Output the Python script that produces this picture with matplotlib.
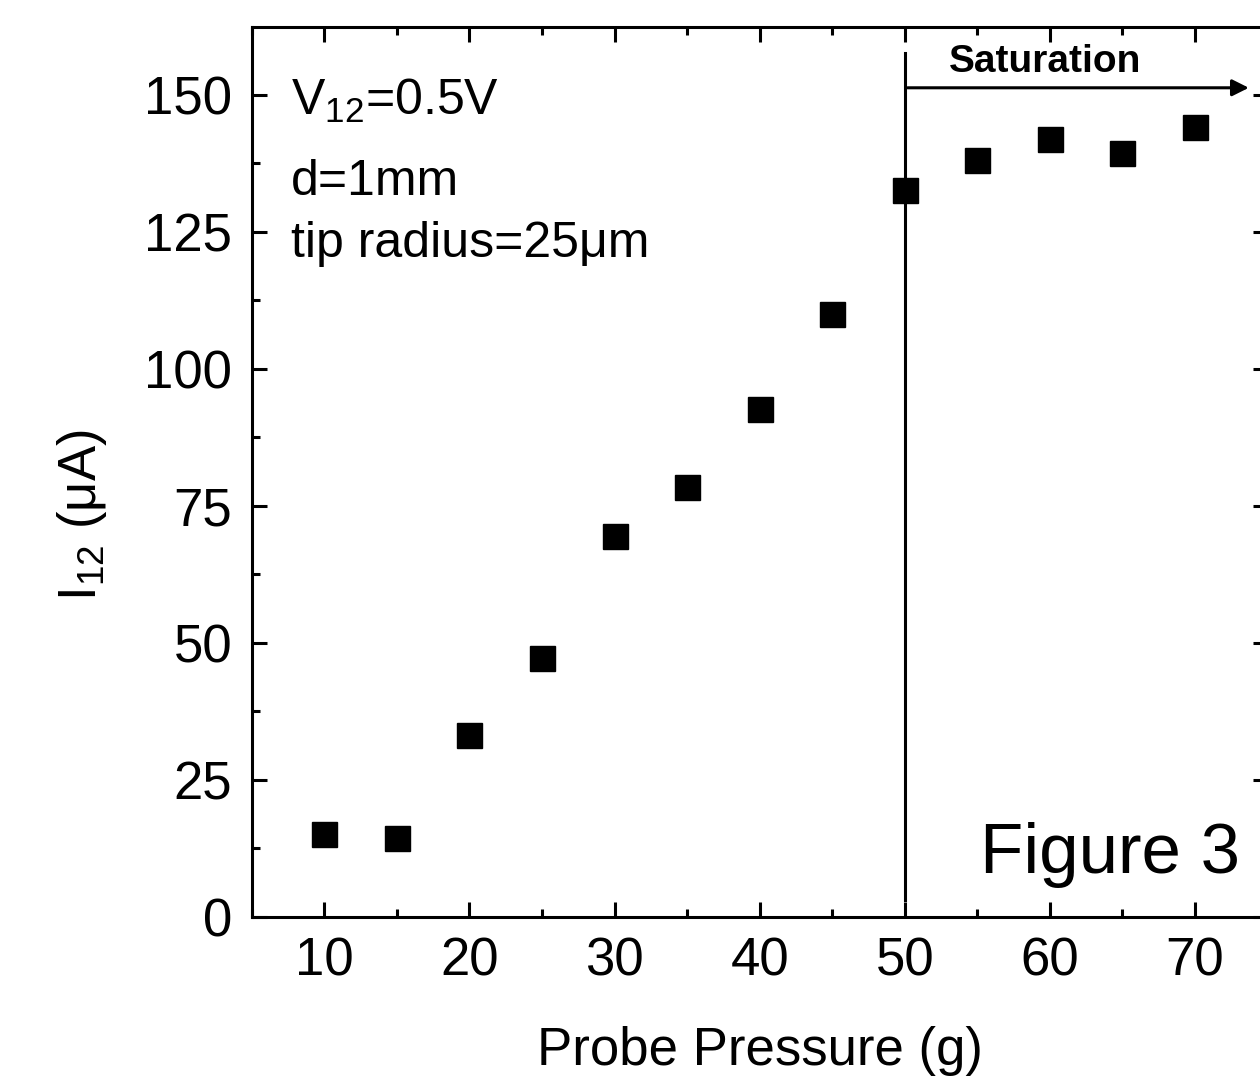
import matplotlib.pyplot as plt
from matplotlib.ticker import MultipleLocator

plt.rcParams['font.family'] = ['Liberation Sans', 'DejaVu Sans']

pressure = [10, 15, 20, 25, 30, 35, 40, 45, 50, 55, 60, 65, 70]
current = [15.1, 14.4, 33.2, 47.3, 69.5, 78.5, 92.7, 110.0, 132.7, 138.1, 142.0, 139.4, 144.2]

fig = plt.figure(figsize=(12.6, 10.79), dpi=100)
ax = fig.add_axes([0.1998, 0.1504, 0.8062, 0.8246])

ax.plot(pressure, current, linestyle='none', marker='s', markersize=18, color='black')

ax.set_xlim(5, 75)
ax.set_ylim(0, 162.4)
ax.xaxis.set_major_locator(MultipleLocator(10))
ax.xaxis.set_minor_locator(MultipleLocator(5))
ax.yaxis.set_major_locator(MultipleLocator(25))
ax.yaxis.set_minor_locator(MultipleLocator(12.5))
ax.tick_params(which='both', direction='in', top=True, right=True, width=2.2, labelsize=38)
ax.tick_params(which='major', length=11, pad=14)
ax.tick_params(which='minor', length=6)
for s in ax.spines.values():
    s.set_linewidth(2.2)

ax.set_xlabel('Probe Pressure (g)', fontsize=38, labelpad=29)
ax.set_ylabel(r'I$_{\mathregular{12}}$ ($\mathregular{\mu}$A)', fontsize=38)
ax.yaxis.set_label_coords(-0.141, 0.451)

# saturation marker
ax.plot([50, 50], [3.0, 157.7], color='black', linewidth=2.2)
ax.annotate('', xy=(73.9, 151.3), xytext=(50, 151.3),
            arrowprops=dict(arrowstyle='-|>', color='black', lw=2.2, mutation_scale=25))
ax.text(59.7, 154.2, 'Saturation', fontsize=28, fontweight='bold', ha='center', va='baseline')

ax.text(7.7, 146.3, r'V$_{\mathregular{12}}$=0.5V', fontsize=36, va='baseline')
ax.text(7.7, 131.7, 'd=1mm', fontsize=36, va='baseline')
ax.text(7.7, 120.4, 'tip radius=25\u03bcm', fontsize=36, va='baseline')
ax.text(55.2, 8.0, 'Figure 3', fontsize=51, va='baseline')

fig.savefig('out.png', dpi=100)
